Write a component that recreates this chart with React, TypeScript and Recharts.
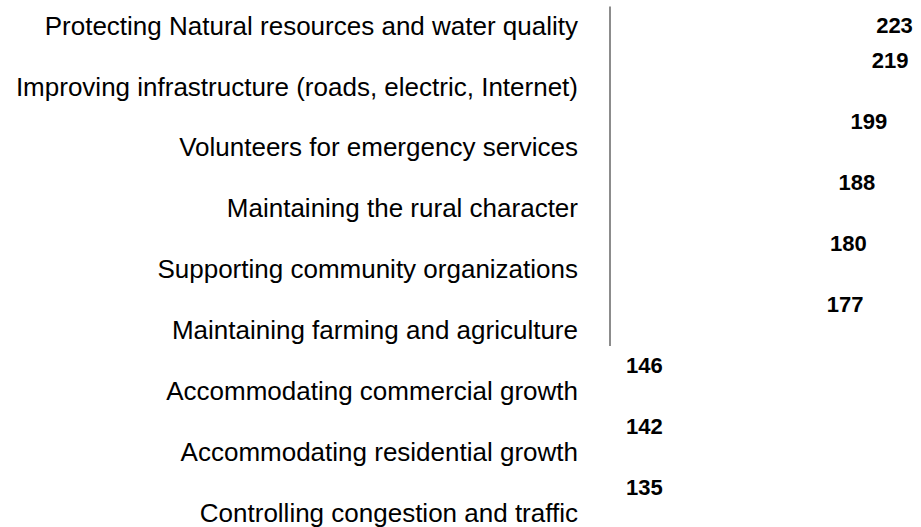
import { BarChart, Bar, XAxis, YAxis, LabelList, ReferenceLine } from 'recharts';

// Survey priorities, ordered as in the picture (top to bottom)
const categories = [
  'Protecting Natural resources and water quality',
  'Improving infrastructure (roads, electric, Internet)',
  'Volunteers for emergency services',
  'Maintaining the rural character',
  'Supporting community organizations',
  'Maintaining farming and agriculture',
  'Accommodating commercial growth',
  'Accommodating residential growth',
  'Controlling congestion and traffic',
];

// first six rows: labels follow the value
const upperCounts = [223, 219, 199, 188, 180, 177];
// last three rows: labels sit at the axis start
const lowerCounts = [146, 142, 135];

const data = categories.map((name, i) => ({
  name,
  upper: i < upperCounts.length ? upperCounts[i] : null,
  lower: i >= upperCounts.length ? lowerCounts[i - upperCounts.length] : null,
}));

const FONT = '"Liberation Sans", Arial, Helvetica, sans-serif';

const valueLabel = (atEnd: boolean) => (props: any) => {
  const { value, index } = props;
  if (value == null) return null;
  const vb = props.viewBox ?? props;
  const cy = vb.y + vb.height / 2;
  // the top label stays on its row, the others are lifted above it
  const y = atEnd && index === 0 ? cy : cy - 26;
  const x = atEnd ? vb.x + vb.width + 27 : vb.x + 16;
  return (
    <text x={x} y={y} dy="0.355em" fontFamily={FONT} fontSize={22} fontWeight="bold" fill="#000">
      {value}
    </text>
  );
};

export default function App() {
  return (
    <div style={{ marginTop: -5 }}>
      <style>{'body{margin:0;background:#fff}'}</style>
      <BarChart
        width={921}
        height={548}
        data={data}
        layout="vertical"
        margin={{ top: 0, right: 0, bottom: 0, left: 0 }}
      >
        <XAxis type="number" domain={[0, 290]} hide />
        <YAxis
          type="category"
          dataKey="name"
          width={610}
          axisLine={false}
          tickLine={false}
          tickSize={0}
          tickMargin={32}
          interval={0}
          tick={{ fill: '#000', fontSize: 26, fontFamily: FONT }}
        />
        <ReferenceLine
          segment={[
            { x: 0, y: categories[0] },
            { x: 0, y: categories[5] },
          ]}
          stroke="#8c8c8c"
          strokeWidth={2}
          shape={(p: any) => (
            <line x1={p.x1} y1={p.y1 - 19} x2={p.x2} y2={p.y2 + 16} stroke="#8c8c8c" strokeWidth={2} />
          )}
        />
        <Bar dataKey="upper" stackId="a" fill="transparent" isAnimationActive={false}>
          <LabelList dataKey="upper" content={valueLabel(true)} />
        </Bar>
        <Bar dataKey="lower" stackId="a" fill="transparent" isAnimationActive={false}>
          <LabelList dataKey="lower" content={valueLabel(false)} />
        </Bar>
      </BarChart>
    </div>
  );
}
